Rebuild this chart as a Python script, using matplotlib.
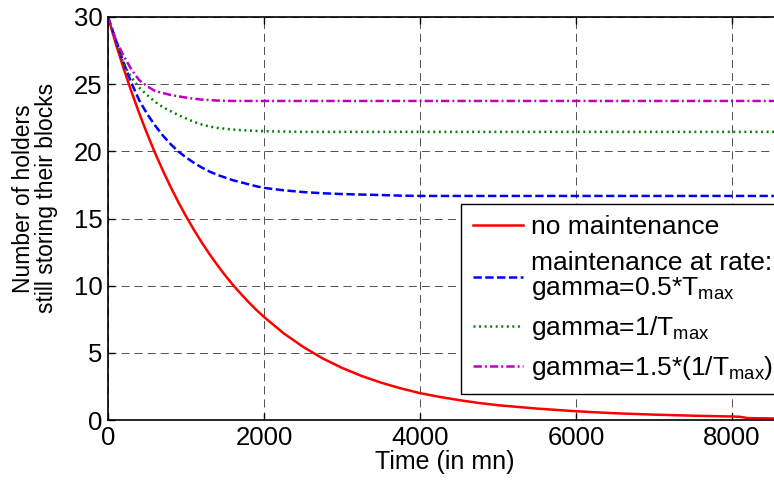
import numpy as np
import matplotlib
matplotlib.use('Agg')
import matplotlib.pyplot as plt

# time axis (minutes)
t = [0, 100, 200, 300, 400, 500, 600, 700, 800, 900, 1000,
     1100, 1200, 1300, 1400, 1500, 1600, 1700, 1800, 1900, 2000,
     2250, 2500, 2750, 3000, 3250, 3500, 3750, 4000, 4250, 4500, 4750, 5000,
     5500, 6000, 6500, 7000, 7500, 8000, 8100, 8200, 8700]

# number of holders still storing their blocks
no_maint = [30, 28.02, 26.17, 24.45, 22.84, 21.33, 19.92, 18.61, 17.38, 16.24, 15.17,
            14.17, 13.23, 12.36, 11.55, 10.78, 10.07, 9.41, 8.79, 8.21, 7.67,
            6.46, 5.45, 4.59, 3.88, 3.28, 2.78, 2.36, 2.00, 1.72, 1.48, 1.27, 1.10,
            0.85, 0.65, 0.50, 0.40, 0.32, 0.26, 0.24, 0.14, 0.10]
gamma_05 = [30, 28.3, 26.6, 25.1, 23.8, 22.8, 21.95, 21.2, 20.55, 20.0, 19.55,
            19.15, 18.8, 18.5, 18.25, 18.05, 17.85, 17.7, 17.55, 17.4, 17.28,
            17.1, 16.97, 16.88, 16.82, 16.78, 16.75, 16.7, 16.68, 16.68, 16.68, 16.68, 16.68,
            16.68, 16.68, 16.68, 16.68, 16.68, 16.68, 16.68, 16.68, 16.68]
gamma_1 = [30, 28.2, 26.5, 25.5, 24.75, 24.2, 23.7, 23.3, 23.0, 22.7, 22.45,
           22.2, 22.0, 21.85, 21.75, 21.68, 21.62, 21.58, 21.55, 21.52, 21.5,
           21.47, 21.45, 21.45, 21.45, 21.45, 21.45, 21.45, 21.45, 21.45, 21.45, 21.45, 21.45,
           21.45, 21.45, 21.45, 21.45, 21.45, 21.45, 21.45, 21.45, 21.45]
gamma_15 = [30, 28.3, 27.1, 26.1, 25.3, 24.85, 24.5, 24.35, 24.2, 24.1, 24.0,
            23.92, 23.85, 23.82, 23.78, 23.76, 23.75, 23.75, 23.75, 23.75, 23.75,
            23.75, 23.75, 23.75, 23.75, 23.75, 23.75, 23.75, 23.75, 23.75, 23.75, 23.75, 23.75,
            23.75, 23.75, 23.75, 23.75, 23.75, 23.75, 23.75, 23.75, 23.75]

labels = ['no maintenance',
          'maintenance at rate:\ngamma=0.5*T$_{\\mathrm{max}}$',
          'gamma=1/T$_{\\mathrm{max}}$',
          'gamma=1.5*(1/T$_{\\mathrm{max}}$)']

plt.rcParams['font.family'] = ['Liberation Sans', 'DejaVu Sans']
plt.rcParams['mathtext.fontset'] = 'custom'
plt.rcParams['mathtext.rm'] = 'Liberation Sans'
plt.rcParams['mathtext.it'] = 'Liberation Sans:italic'
plt.rcParams['lines.scale_dashes'] = False

fig = plt.figure(figsize=(7.74, 4.83), dpi=100)
ax = fig.add_axes([108 / 774, 1 - 420 / 483, 674 / 774, 403 / 483])

ax.plot(t, no_maint, color='red', lw=1.8, linestyle='-', label=labels[0])
ax.plot(t, gamma_05, color='blue', lw=1.8, linestyle=(0, (6, 2.5)), label=labels[1])
ax.plot(t, gamma_1, color='green', lw=1.8, linestyle=(0, (1.4, 2.6)), label=labels[2])
ax.plot(t, gamma_15, color='m', lw=1.8, linestyle=(0, (6, 2.2, 1.4, 2.2)), label=labels[3])

ax.set_xlim(0, 8640)
ax.set_ylim(0, 30)
ax.set_xticks([0, 2000, 4000, 6000, 8000])
ax.set_yticks([0, 5, 10, 15, 20, 25, 30])
ax.grid(True, color='black', lw=0.6, linestyle=(0, (5.8, 3.6)), alpha=0.8)
ax.set_axisbelow(True)

ax.tick_params(direction='in', top=True, right=True, length=5, width=1,
               labelsize=18.5, pad=4)
for s in ax.spines.values():
    s.set_linewidth(1.2)

ax.set_xlabel('Time (in mn)', fontsize=18, labelpad=0)
ax.set_ylabel('Number of holders\nstill storing their blocks', fontsize=16.5,
              linespacing=1.0)
ax.yaxis.set_label_coords(-0.074, 0.55)

leg = ax.legend(loc='lower left', bbox_to_anchor=((461 - 108) / 674, (420 - 394) / 403),
                borderaxespad=0, fontsize=19, handlelength=1.9, handletextpad=0.3,
                borderpad=0.45, labelspacing=0.45, fancybox=False, framealpha=1,
                edgecolor='black')
leg.get_frame().set_linewidth(1.0)
for txt in leg.get_texts():
    txt.set_linespacing(1.0)

fig.savefig('out.png', dpi=100)
